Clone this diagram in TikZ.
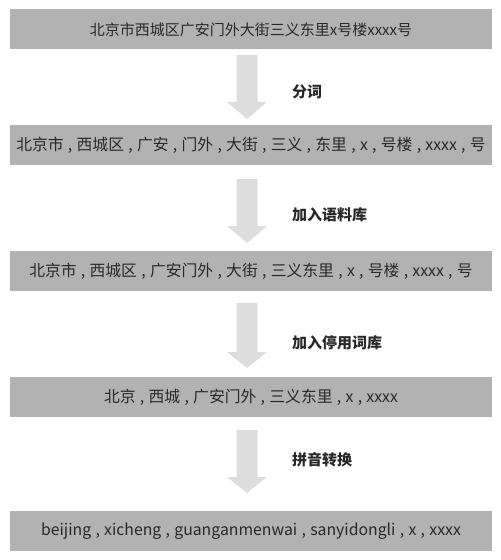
\documentclass[tikz,border=0pt]{standalone}
\usepackage{fontspec}
\setmainfont{Noto Sans CJK SC}
\usetikzlibrary{calc}
\definecolor{boxgray}{RGB}{178,178,178}
\definecolor{arrgray}{RGB}{221,221,221}
\definecolor{txtdark}{RGB}{40,40,40}
\newcommand\cs{\hspace{4.3bp},\hspace{4.3bp}}
\tikzset{
  x=1bp, y=-1bp,
  graybox/.style={fill=boxgray, draw=none, minimum width=482bp, minimum height=40bp,
    inner sep=0pt, text=txtdark, font=\fontsize{15.8bp}{18bp}\selectfont},
  steplabel/.style={anchor=west, inner sep=0pt, text=txtdark,
    font=\fontsize{15bp}{18bp}\selectfont\bfseries},
  blockarrow/.style={fill=arrgray, draw=none}
}
\newcommand\garrow[3]{% top y, head-start y, tip y
  \fill[blockarrow] (236.5,#1) -- (257.5,#1) -- (257.5,#2) -- (267,#2) -- (247,#3)
    -- (227,#2) -- (236.5,#2) -- cycle;}
\begin{document}
\begin{tikzpicture}
\useasboundingbox (0,0) rectangle (501,560);
\node[graybox, font=\fontsize{15bp}{18bp}\selectfont] (b1) at (251,29.5) {北京市西城区广安门外大街三义东里x号楼xxxx号};
\node[graybox] (b2) at (251,145) {北京市\cs 西城区\cs 广安\cs 门外\cs 大街\cs 三义\cs 东里\cs x\cs 号楼\cs xxxx\cs 号};
\node[graybox] (b3) at (251,271) {北京市\cs 西城区\cs 广安门外\cs 大街\cs 三义东里\cs x\cs 号楼\cs xxxx\cs 号};
\node[graybox] (b4) at (251,397) {北京\cs 西城\cs 广安门外\cs 三义东里\cs x\cs xxxx};
\node[graybox] (b5) at (251,531) {beijing\cs xicheng\cs guanganmenwai\cs sanyidongli\cs x\cs xxxx};
\garrow{55}{102}{119}
\garrow{179}{226}{243}
\garrow{303}{352}{368}
\garrow{430}{477}{493}
\node[steplabel] (l1) at (292,92) {分词};
\node[steplabel] (l2) at (292,215) {加入语料库};
\node[steplabel] (l3) at (292,343) {加入停用词库};
\node[steplabel] (l4) at (292,460) {拼音转换};
\end{tikzpicture}
\end{document}
